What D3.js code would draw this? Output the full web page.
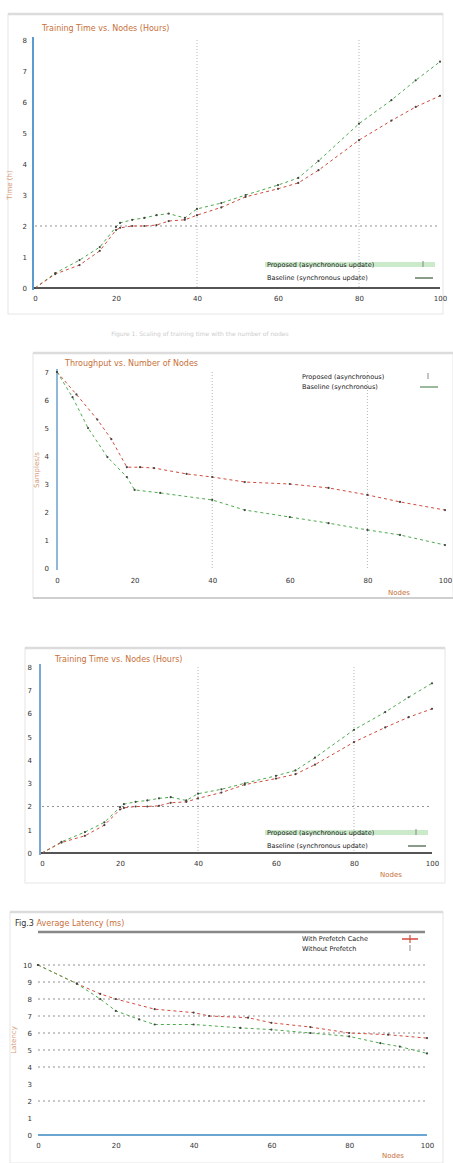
<!DOCTYPE html>
<html>
<head>
<meta charset="utf-8">
<script src="https://cdn.jsdelivr.net/npm/d3@7"></script>
<style>
  body { margin: 0; background: #fff; }
  text { font-family: "DejaVu Sans", sans-serif; }
  .title { font-size: 8px; fill: #c8703a; }
  .tick text { font-size: 7px; fill: #333; }
  .legend text { font-size: 6.5px; fill: #222; }
  .axis-label { font-size: 7px; fill: #c8703a; }
</style>
</head>
<body>
<svg id="page" width="453" height="1163"></svg>
<script>
// ---- data ----
const X_TICKS = [0, 1, 2, 3, 4, 5];
const X_TICK_LABELS = ["0", "20", "40", "60", "80", "100"];

const GROWTH_GREEN = [
  [0, 0], [0.25, 0.48], [0.55, 0.9], [0.8, 1.32], [1, 1.97], [1.05, 2.1],
  [1.2, 2.2], [1.35, 2.26], [1.5, 2.35], [1.65, 2.4], [1.85, 2.26], [2, 2.55],
  [2.3, 2.74], [2.6, 3.0], [3, 3.32], [3.25, 3.55], [3.5, 4.1], [4, 5.3],
  [4.4, 6.06], [4.7, 6.7], [5, 7.3]
];
const GROWTH_RED = [
  [0, 0], [0.25, 0.45], [0.55, 0.74], [0.8, 1.2], [1, 1.87], [1.05, 1.94],
  [1.2, 2.0], [1.35, 2.0], [1.5, 2.03], [1.65, 2.16], [1.85, 2.2], [2, 2.35],
  [2.3, 2.6], [2.6, 2.94], [3, 3.2], [3.25, 3.39], [3.5, 3.8], [4, 4.77],
  [4.4, 5.4], [4.7, 5.84], [5, 6.2]
];
const GROWTH_Y_TICKS = [0, 1, 2, 3, 4, 5, 6, 7, 8];

const DECAY_RED = [
  [0, 7.0], [0.25, 6.2], [0.52, 5.3], [0.7, 4.6], [0.9, 3.6], [1.07, 3.6],
  [1.25, 3.57], [1.67, 3.36], [2, 3.25], [2.42, 3.07], [3, 3.0], [3.5, 2.86],
  [4, 2.61], [4.42, 2.36], [5, 2.07]
];
const DECAY_GREEN = [
  [0, 7.0], [0.2, 6.1], [0.4, 5.0], [0.65, 3.96], [0.9, 3.25], [1, 2.79],
  [1.33, 2.68], [2, 2.43], [2.42, 2.07], [3, 1.82], [3.5, 1.6], [4, 1.36],
  [4.42, 1.18], [5, 0.82]
];
const DECAY_Y_TICKS = [0, 1, 2, 3, 4, 5, 6, 7];

const LATENCY_RED = [
  [0, 10], [0.5, 8.9], [0.8, 8.3], [1, 8.0], [1.5, 7.4], [2, 7.2], [2.2, 7.0],
  [2.7, 6.9], [3, 6.6], [3.5, 6.35], [4, 6.0], [4.5, 5.9], [5, 5.7]
];
const LATENCY_GREEN = [
  [0, 10], [0.5, 8.9], [0.8, 8.0], [1, 7.3], [1.3, 6.8], [1.5, 6.5], [2, 6.5],
  [2.6, 6.3], [3, 6.2], [3.5, 6.0], [4, 5.8], [4.4, 5.4], [4.65, 5.2], [5, 4.8]
];
const LATENCY_Y_TICKS = [0, 1, 2, 3, 4, 5, 6, 7, 8, 9, 10];
const LATENCY_GRID = [2, 4, 5, 6, 7, 8, 9, 10];

const RED = "#d24a3c";
const GREEN = "#4caa4c";

const SVG = d3.select("#page");

function drawPanel(p) {
  const g = SVG.append("g");

  // frame
  g.append("rect")
    .attr("x", p.frame[0]).attr("y", p.frame[1])
    .attr("width", p.frame[2]).attr("height", p.frame[3])
    .attr("fill", "none").attr("stroke", "#e6e6e6").attr("stroke-width", 1);
  g.append("line")
    .attr("x1", p.frame[0]).attr("x2", p.frame[0] + p.frame[2])
    .attr("y1", p.frame[1]).attr("y2", p.frame[1])
    .attr("stroke", "#dcdcdc").attr("stroke-width", 2.5);
  if (p.bottomBorder) {
    g.append("line")
      .attr("x1", p.frame[0]).attr("x2", p.frame[0] + p.frame[2])
      .attr("y1", p.frame[1] + p.frame[3]).attr("y2", p.frame[1] + p.frame[3])
      .attr("stroke", "#cfcfcf").attr("stroke-width", 2);
  }

  const x = d3.scaleLinear().domain([0, 5]).range(p.xRange);
  const y = d3.scaleLinear().domain(p.yDomain).range(p.yRange);

  // vertical grid
  (p.vGrid || []).forEach((v) => {
    g.append("line")
      .attr("x1", x(v)).attr("x2", x(v))
      .attr("y1", p.yRange[1]).attr("y2", p.yRange[0])
      .attr("stroke", "#999").attr("stroke-width", 0.7)
      .attr("stroke-dasharray", "1,2");
  });
  // horizontal grid
  (p.hGrid || []).forEach((v) => {
    g.append("line")
      .attr("x1", p.xRange[0]).attr("x2", p.xRange[1])
      .attr("y1", y(v)).attr("y2", y(v))
      .attr("stroke", "#777").attr("stroke-width", 0.8)
      .attr("stroke-dasharray", "2,3");
  });

  // axes (ticks only, lines drawn separately)
  const xAxis = d3.axisBottom(x).tickValues(X_TICKS)
    .tickFormat((d, i) => X_TICK_LABELS[i]).tickSize(0).tickPadding(p.xPad);
  g.append("g").attr("transform", "translate(0," + p.yRange[0] + ")")
    .call(xAxis).call((a) => a.select(".domain").remove());

  const yAxis = d3.axisLeft(y).tickValues(p.yTicks)
    .tickFormat(d3.format("d")).tickSize(0).tickPadding(p.yPad);
  g.append("g").attr("transform", "translate(" + p.yAxisX + ",0)")
    .call(yAxis).call((a) => a.select(".domain").remove());

  if (p.xAxisColor) {
    g.append("line")
      .attr("x1", p.yAxisX).attr("x2", p.xRange[1])
      .attr("y1", p.yRange[0]).attr("y2", p.yRange[0])
      .attr("stroke", p.xAxisColor).attr("stroke-width", 2);
  }
  if (p.yAxisColor) {
    g.append("line")
      .attr("x1", p.yAxisX).attr("x2", p.yAxisX)
      .attr("y1", p.yRange[1] - 3).attr("y2", p.yRange[0] + 2)
      .attr("stroke", p.yAxisColor).attr("stroke-width", 2);
  }

  // series
  const line = d3.line().x((d) => x(d[0])).y((d) => y(d[1]));
  p.series.forEach((s) => {
    g.append("path")
      .datum(s.data)
      .attr("d", line)
      .attr("fill", "none")
      .attr("stroke", s.color)
      .attr("stroke-width", 1)
      .attr("stroke-dasharray", "3,3");
    g.selectAll(null)
      .data(s.data)
      .enter()
      .append("circle")
      .attr("cx", (d) => x(d[0]))
      .attr("cy", (d) => y(d[1]))
      .attr("r", 1.1)
      .attr("fill", "#444");
  });

  // title
  const t = g.append("text").attr("class", "title")
    .attr("x", p.title.x).attr("y", p.title.y);
  if (p.title.prefix) {
    t.append("tspan").style("fill", "#333").text(p.title.prefix);
  }
  t.append("tspan").text(p.title.text);
  if (p.titleRule) {
    g.append("line")
      .attr("x1", p.titleRule[0]).attr("x2", p.titleRule[1])
      .attr("y1", p.titleRule[2]).attr("y2", p.titleRule[2])
      .attr("stroke", "#888").attr("stroke-width", 2.5);
  }

  // axis labels
  if (p.yLabel) {
    g.append("text").attr("class", "axis-label")
      .attr("transform", "translate(" + p.yLabel.x + "," + p.yLabel.y + ") rotate(-90)")
      .style("text-anchor", "middle").style("opacity", 0.7)
      .text(p.yLabel.text);
  }
  if (p.xLabel) {
    g.append("text").attr("class", "axis-label")
      .attr("x", p.xLabel.x).attr("y", p.xLabel.y)
      .text(p.xLabel.text);
  }

  // legend
  const LEGEND = g.append("g").attr("class", "legend");
  p.legend.items.forEach((item, i) => {
    const ly = p.legend.y + i * p.legend.step;
    if (item.band) {
      LEGEND.append("rect")
        .attr("x", p.legend.x - 2).attr("y", ly - 5)
        .attr("width", p.legend.w).attr("height", 5)
        .attr("fill", item.band).attr("opacity", 0.55);
    }
    LEGEND.append("text").attr("x", p.legend.x).attr("y", ly).text(item.label);
    const sx = p.legend.x + p.legend.w - 22;
    if (item.symbol === "tick") {
      LEGEND.append("line").attr("x1", sx + 8).attr("x2", sx + 8)
        .attr("y1", ly - 6).attr("y2", ly)
        .attr("stroke", "#888").attr("stroke-width", 1);
    } else if (item.symbol === "plus") {
      LEGEND.append("line").attr("x1", sx).attr("x2", sx + 16)
        .attr("y1", ly - 2).attr("y2", ly - 2)
        .attr("stroke", item.color).attr("stroke-width", 1.5);
      LEGEND.append("line").attr("x1", sx + 8).attr("x2", sx + 8)
        .attr("y1", ly - 6).attr("y2", ly + 2)
        .attr("stroke", item.color).attr("stroke-width", 1.2);
    } else {
      LEGEND.append("line").attr("x1", sx).attr("x2", sx + 18)
        .attr("y1", ly - 2).attr("y2", ly - 2)
        .attr("stroke", item.color).attr("stroke-width", 1.2);
    }
  });
}

const GROWTH_LEGEND_ITEMS = [
  { label: "Proposed (asynchronous update)", band: "#9ed89e", symbol: "tick" },
  { label: "Baseline (synchronous update)", color: "#3a5a3a", symbol: "line" }
];

drawPanel({
  frame: [8, 14, 435, 300],
  xRange: [35, 440], yDomain: [0, 8], yRange: [288, 40],
  yTicks: GROWTH_Y_TICKS, yAxisX: 33, xPad: 8, yPad: 6,
  vGrid: [2, 4], hGrid: [2],
  xAxisColor: "#555", yAxisColor: "#5b9bd0",
  series: [{ data: GROWTH_GREEN, color: GREEN }, { data: GROWTH_RED, color: RED }],
  title: { x: 42, y: 31, text: "Training Time vs. Nodes (Hours)" },
  yLabel: { x: 12, y: 185, text: "Time (h)" },
  legend: { x: 267, y: 267, step: 13, w: 170, items: GROWTH_LEGEND_ITEMS }
});

SVG.append("text")
  .attr("x", 200).attr("y", 336)
  .style("text-anchor", "middle").style("font-size", "6px").style("fill", "#ccc")
  .text("Figure 1. Scaling of training time with the number of nodes");

drawPanel({
  frame: [33, 353, 420, 245], bottomBorder: true,
  xRange: [57, 445], yDomain: [0, 7], yRange: [568, 372],
  yTicks: DECAY_Y_TICKS, yAxisX: 57, xPad: 10, yPad: 8,
  vGrid: [2, 4],
  yAxisColor: "#8fb8dc",
  series: [{ data: DECAY_RED, color: RED }, { data: DECAY_GREEN, color: GREEN }],
  title: { x: 65, y: 366, text: "Throughput vs. Number of Nodes" },
  yLabel: { x: 39, y: 470, text: "Samples/s" },
  xLabel: { x: 388, y: 595, text: "Nodes" },
  legend: {
    x: 302, y: 379, step: 10, w: 140,
    items: [
      { label: "Proposed (asynchronous)", symbol: "tick" },
      { label: "Baseline (synchronous)", color: "#5a8a5a", symbol: "line" }
    ]
  }
});

drawPanel({
  frame: [25, 648, 420, 235],
  xRange: [42, 432], yDomain: [0, 8], yRange: [853, 667],
  yTicks: GROWTH_Y_TICKS, yAxisX: 40, xPad: 8, yPad: 8,
  vGrid: [2, 4], hGrid: [2],
  xAxisColor: "#555", yAxisColor: "#7aa8d4",
  series: [{ data: GROWTH_GREEN, color: GREEN }, { data: GROWTH_RED, color: RED }],
  title: { x: 55, y: 662, text: "Training Time vs. Nodes (Hours)" },
  xLabel: { x: 380, y: 877, text: "Nodes" },
  legend: { x: 267, y: 835, step: 13, w: 163, items: GROWTH_LEGEND_ITEMS }
});

drawPanel({
  frame: [10, 912, 433, 251],
  xRange: [38, 427], yDomain: [0, 10], yRange: [1135, 965],
  yTicks: LATENCY_Y_TICKS, yAxisX: 38, xPad: 8, yPad: 6,
  hGrid: LATENCY_GRID,
  xAxisColor: "#6aa6d0",
  series: [{ data: LATENCY_RED, color: RED }, { data: LATENCY_GREEN, color: GREEN }],
  title: { x: 15, y: 926, prefix: "Fig.3 ", text: "Average Latency (ms)" },
  titleRule: [38, 425, 932],
  yLabel: { x: 16, y: 1040, text: "Latency" },
  xLabel: { x: 382, y: 1158, text: "Nodes" },
  legend: {
    x: 302, y: 941, step: 10, w: 122,
    items: [
      { label: "With Prefetch Cache", color: RED, symbol: "plus" },
      { label: "Without Prefetch", symbol: "tick" }
    ]
  }
});
</script>
</body>
</html>
